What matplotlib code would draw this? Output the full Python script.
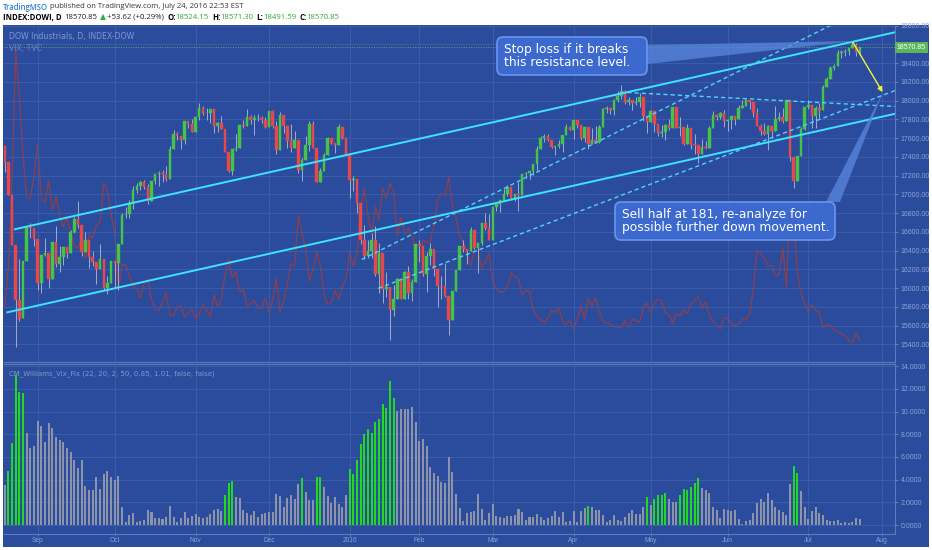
import numpy as np
import pandas as pd
import matplotlib
matplotlib.use('Agg')
import matplotlib.pyplot as plt
from matplotlib.patches import FancyBboxPatch, Polygon, Rectangle
from matplotlib.transforms import Affine2D, blended_transform_factory

# Daily DOW candles, 2015-08-19 .. 2016-07-22 (one value per trading day)
open_ = [17511, 17349, 16991, 16460, 15872, 15676, 16285, 16655, 16643,
         16528, 16058, 16351, 16375, 16102, 16493, 16254, 16330, 16433, 16371, 16600, 16740, 16675, 16385, 16510, 16330, 16280, 16201, 16315, 16002, 16049,
         16285, 16272, 16472, 16776, 16790, 16912, 17051, 17084, 17132, 17082, 16925, 17142, 17216, 17231, 17217, 17169, 17489, 17647, 17623, 17581, 17780, 17756,
         17664, 17829, 17918, 17868, 17863, 17910, 17730, 17758, 17702, 17448, 17245, 17483, 17490, 17737, 17733, 17824, 17793, 17812, 17813, 17798,
         17720, 17888, 17730, 17478, 17848, 17731, 17568, 17492, 17575, 17265, 17369, 17525, 17749, 17496, 17129, 17252, 17417, 17603, 17552, 17528, 17721, 17604,
         17425, 17149, 17159, 16907, 16514, 16346, 16399, 16516, 16151, 16379, 15988, 16016, 15767, 15883, 16094, 15885, 16167, 15944, 16070,
         16466, 16449, 16154, 16337, 16417, 16205, 16027, 16014, 15915, 15660, 15974, 16196, 16454, 16413, 16392, 16621, 16432, 16485, 16697, 16640,
         16517, 16865, 16899, 16944, 17007, 17074, 16964, 17000, 16995, 17213, 17229, 17252, 17326, 17481, 17602, 17624, 17583, 17503, 17516, 17535, 17633, 17717,
         17685, 17793, 17737, 17603, 17716, 17542, 17577, 17556, 17721, 17908, 17926, 17897, 18004, 18054, 18096, 17983, 18004, 17977, 17990, 18042, 17831,
         17774, 17891, 17751, 17651, 17661, 17741, 17706, 17928, 17711, 17721, 17535, 17711, 17530, 17527, 17435, 17501, 17493, 17706, 17852, 17828, 17873,
         17787, 17790, 17839, 17807, 17920, 17938, 18005, 17985, 17865, 17732, 17675, 17640, 17733, 17675, 17805, 17830, 17781, 18011, 17401, 17140, 17410, 17695,
         17930, 17949, 17841, 17919, 17896, 18147, 18227, 18348, 18372, 18506, 18517, 18533, 18559, 18595, 18524]
high = [17511, 17349, 16991, 16460, 16312, 16285, 16666, 16697, 16643,
        16528, 16351, 16529, 16375, 16494, 16664, 16450, 16434, 16433, 16620, 16755, 16933, 16675, 16600, 16510, 16392, 16280, 16467, 16315, 16130, 16285,
        16285, 16472, 16797, 16864, 16944, 17085, 17119, 17138, 17150, 17106, 17142, 17220, 17249, 17263, 17301, 17516, 17689, 17662, 17623, 17780, 17782, 17799,
        17829, 17978, 17948, 17921, 17910, 17910, 17770, 17836, 17702, 17448, 17483, 17649, 17737, 17798, 17915, 17851, 17844, 17856, 17839, 17830,
        17895, 17901, 17784, 17880, 17848, 17731, 17747, 17675, 17575, 17388, 17627, 17784, 17787, 17496, 17279, 17439, 17607, 17606, 17552, 17750, 17721, 17604,
        17425, 17195, 17159, 16907, 16675, 16513, 16591, 16665, 16482, 16379, 16172, 16016, 16038, 16109, 16094, 16185, 16235, 16102, 16466,
        16510, 16449, 16381, 16485, 16417, 16205, 16127, 16270, 15915, 15974, 16197, 16454, 16511, 16413, 16650, 16621, 16485, 16698, 16796, 16795,
        16865, 16900, 16944, 17062, 17099, 17074, 17006, 17130, 17220, 17237, 17252, 17326, 17513, 17620, 17641, 17643, 17583, 17520, 17578, 17633, 17754, 17733,
        17793, 17794, 17737, 17716, 17716, 17703, 17731, 17744, 17918, 17939, 17926, 18009, 18103, 18167, 18109, 18038, 18004, 18043, 18084, 18042, 17831,
        17903, 17891, 17751, 17738, 17748, 17805, 17934, 17928, 17822, 17721, 17756, 17711, 17646, 17527, 17589, 17573, 17730, 17891, 17860, 17874, 17899,
        17809, 17839, 17839, 17956, 18003, 18016, 18005, 17985, 17917, 17746, 17763, 17740, 17733, 17946, 17877, 17921, 18011, 18011, 17401, 17410, 17715, 17930,
        18003, 17949, 17940, 17975, 18166, 18248, 18372, 18391, 18537, 18537, 18550, 18559, 18622, 18612, 18571]
low = [17244, 16990, 16460, 15370, 15651, 15676, 16285, 16530, 16452,
       15980, 15950, 16340, 16003, 16102, 16227, 16170, 16244, 16318, 16371, 16591, 16639, 16344, 16385, 16211, 16236, 16040, 16201, 15980, 15942, 16049,
       16013, 15980, 16472, 16745, 16750, 16843, 17016, 17046, 17055, 16896, 16925, 17109, 17088, 17134, 17143, 17169, 17489, 17576, 17485, 17534, 17710, 17662,
       17664, 17789, 17843, 17796, 17764, 17660, 17668, 17701, 17447, 17238, 17210, 17459, 17490, 17712, 17733, 17752, 17633, 17786, 17762, 17710,
       17720, 17710, 17431, 17478, 17651, 17496, 17449, 17492, 17230, 17138, 17369, 17463, 17495, 17129, 17129, 17252, 17417, 17542, 17437, 17528, 17595, 17421,
       16957, 17038, 16805, 16472, 16315, 16324, 16323, 16125, 15945, 15843, 15900, 15451, 15704, 15883, 15880, 15885, 15879, 15863, 16070,
       16281, 16126, 15960, 16242, 16125, 15803, 15881, 15900, 15503, 15660, 15974, 16196, 16390, 16256, 16392, 16415, 16165, 16458, 16621, 16511,
       16517, 16821, 16817, 16944, 16978, 16952, 16929, 16821, 16995, 17176, 17165, 17204, 17265, 17481, 17554, 17567, 17492, 17420, 17500, 17447, 17633, 17682,
       17594, 17711, 17579, 17556, 17484, 17542, 17551, 17550, 17721, 17870, 17858, 17850, 17985, 18015, 17960, 17955, 17896, 17958, 17934, 17788, 17651,
       17774, 17668, 17627, 17614, 17579, 17683, 17706, 17711, 17622, 17528, 17535, 17485, 17435, 17331, 17435, 17486, 17493, 17706, 17793, 17807, 17724,
       17681, 17696, 17740, 17807, 17920, 17938, 17911, 17822, 17731, 17636, 17630, 17471, 17602, 17675, 17782, 17760, 17781, 17357, 17063, 17140, 17410, 17690,
       17916, 17713, 17712, 17816, 17896, 18147, 18227, 18325, 18372, 18457, 18477, 18486, 18559, 18472, 18492]
close = [17349, 16991, 16460, 15871, 15666, 16285, 16655, 16643, 16528,
         16058, 16351, 16375, 16102, 16493, 16254, 16330, 16433, 16371, 16600, 16740, 16675, 16385, 16510, 16330, 16280, 16201, 16315, 16002, 16049, 16285,
         16272, 16472, 16776, 16790, 16912, 17051, 17084, 17132, 17082, 16925, 17142, 17216, 17231, 17217, 17169, 17489, 17647, 17623, 17581, 17780, 17756, 17664,
         17829, 17918, 17868, 17863, 17910, 17730, 17758, 17702, 17448, 17245, 17483, 17490, 17737, 17733, 17824, 17793, 17812, 17813, 17798, 17720,
         17888, 17730, 17478, 17848, 17731, 17568, 17492, 17575, 17265, 17369, 17525, 17749, 17496, 17129, 17252, 17417, 17603, 17552, 17528, 17721, 17604, 17425,
         17149, 17159, 16907, 16514, 16346, 16399, 16516, 16151, 16379, 15988, 16016, 15767, 15883, 16094, 15885, 16167, 15944, 16070, 16466,
         16449, 16154, 16337, 16417, 16205, 16027, 16014, 15915, 15660, 15974, 16196, 16454, 16413, 16392, 16621, 16432, 16485, 16697, 16640, 16517,
         16865, 16899, 16944, 17007, 17074, 16964, 17000, 16995, 17213, 17229, 17252, 17326, 17481, 17602, 17624, 17583, 17503, 17516, 17535, 17633, 17717, 17685,
         17793, 17737, 17603, 17716, 17542, 17577, 17556, 17721, 17908, 17926, 17897, 18004, 18054, 18096, 17983, 18004, 17977, 17990, 18042, 17831, 17774,
         17891, 17751, 17651, 17661, 17741, 17706, 17928, 17711, 17721, 17535, 17711, 17530, 17527, 17435, 17501, 17493, 17706, 17852, 17828, 17873, 17787,
         17790, 17839, 17807, 17920, 17938, 18005, 17985, 17865, 17732, 17675, 17640, 17733, 17675, 17805, 17830, 17781, 18011, 17401, 17140, 17410, 17695, 17930,
         17949, 17841, 17919, 17896, 18147, 18227, 18348, 18372, 18506, 18517, 18533, 18559, 18595, 18517, 18571]

# VIX overlay (TVC), same days
vix = [15.25, 19.14, 28.03, 40.74, 36.02, 30.32, 26.10, 26.05, 28.43,
       31.40, 26.09, 25.61, 27.80, 24.90, 26.23, 24.37, 23.20, 24.25, 22.54, 21.35, 21.14, 22.28, 20.14, 22.44, 22.13, 23.47, 23.62, 27.63, 26.83, 24.50,
       22.55, 17.08, 19.54, 19.40, 18.40, 17.42, 17.08, 16.17, 17.67, 18.03, 16.05, 15.05, 14.98, 15.75, 16.70, 14.45, 14.46, 15.29, 15.43, 14.33, 14.61, 15.07,
       14.15, 14.54, 15.51, 15.05, 14.33, 16.52, 15.29, 16.06, 18.37, 20.08, 18.16, 18.84, 16.85, 16.99, 15.47, 15.62, 15.93, 15.19, 15.12, 16.13,
       14.67, 15.91, 18.11, 14.81, 15.84, 17.60, 19.61, 19.34, 24.39, 22.73, 20.95, 17.86, 18.94, 20.70, 19.34, 16.60, 15.57, 15.74, 16.91, 16.08, 17.29, 18.21,
       20.70, 19.34, 20.59, 24.99, 27.01, 24.30, 22.47, 25.22, 23.95, 27.02, 26.05, 27.59, 26.69, 22.34, 24.15, 22.50, 23.11, 22.42, 20.20,
       19.98, 21.98, 21.65, 21.84, 23.38, 26.00, 26.54, 26.29, 28.14, 25.40, 24.11, 22.31, 21.64, 20.53, 19.38, 20.98, 20.72, 19.11, 19.81, 20.55,
       17.70, 17.09, 16.70, 16.86, 17.35, 18.67, 18.34, 18.05, 16.50, 16.92, 16.84, 14.99, 14.44, 14.02, 13.79, 14.17, 14.94, 14.74, 15.24, 13.82, 13.56, 13.95,
       13.10, 14.12, 15.42, 14.09, 16.16, 15.36, 16.26, 14.85, 13.84, 13.72, 13.62, 13.35, 13.24, 13.28, 13.95, 13.22, 14.08, 13.96, 13.77, 15.22, 15.70,
       14.68, 15.60, 16.05, 15.91, 14.72, 14.57, 13.63, 14.69, 14.41, 15.04, 14.68, 15.57, 15.95, 16.33, 15.20, 15.82, 14.42, 13.90, 13.43, 13.12, 14.19,
       14.20, 13.63, 13.47, 13.65, 14.05, 14.08, 14.64, 17.03, 20.97, 20.50, 20.14, 19.37, 19.41, 18.37, 18.48, 21.17, 17.25, 25.76, 23.85, 18.75, 16.64, 15.63,
       14.77, 15.58, 14.96, 14.76, 13.20, 13.54, 13.55, 13.04, 12.82, 12.67, 12.44, 11.97, 11.77, 12.74, 12.02]

# CM_Williams_Vix_Fix histogram, same days
wvf = [3.5, 4.76, 7.2, 13.2, 11.75, 11.6, 8.08, 6.75, 6.96,
       9.16, 8.75, 7.34, 8.96, 8.52, 7.78, 7.49, 7.34, 6.75, 6.46, 5.73, 4.99, 5.73, 3.44, 3.08, 3.08, 4.26, 3.14, 4.49, 4.76, 4.26,
       3.96, 4.32, 1.62, 0.29, 0.88, 1.09, 0.29, 0.35, 0.44, 1.32, 1.17, 0.65, 0.59, 0.5, 0.73, 1.7, 0.68, 0.29, 0.59, 1.17, 0.59, 0.79,
       0.94, 0.73, 0.59, 0.73, 0.94, 1.32, 1.38, 1.23, 2.64, 3.67, 3.88, 2.5, 2.35, 1.32, 1.03, 0.88, 1.26, 0.73, 0.97, 1.09,
       1.12, 1.12, 2.7, 2.56, 1.62, 2.35, 2.64, 2.26, 3.61, 4.11, 2.94, 2.2, 2.2, 4.2, 4.26, 3.38, 2.56, 1.91, 2.44, 1.85, 1.62, 2.64,
       4.93, 4.49, 5.73, 7.1, 8.02, 8.46, 8.13, 9.05, 9.31, 10.63, 10.28, 12.72, 11.22, 10.07, 10.19, 10.25, 10.22, 10.37, 9.1,
       7.43, 7.55, 6.96, 5.14, 4.55, 4.32, 3.82, 3.73, 6.02, 4.7, 2.7, 1.47, 0.35, 1.03, 1.17, 1.26, 2.7, 1.38, 0.44, 1.03,
       1.85, 0.79, 0.68, 0.59, 0.79, 0.82, 0.88, 1.38, 1.17, 0.44, 0.73, 0.73, 0.97, 0.73, 0.44, 0.59, 0.79, 1.26, 0.73, 1.17, 0.29, 0.35,
       1.26, 0.29, 1.23, 1.47, 1.67, 1.56, 1.32, 1.32, 0.88, 0.29, 0.44, 0.88, 0.44, 0.38, 0.73, 1.03, 1.32, 0.97, 0.97, 1.62, 2.44,
       1.76, 2.29, 2.64, 2.64, 2.79, 2.26, 2.06, 2.06, 2.64, 3.17, 3.08, 3.38, 3.67, 4.11, 3.23, 3.08, 2.79, 1.62, 1.32, 0.59, 1.38,
       1.32, 1.26, 1.32, 0.5, 0.1, 0.38, 0.44, 1.03, 1.91, 2.26, 2.06, 2.85, 2.2, 1.62, 1.32, 1.17, 0.88, 3.61, 5.2, 4.55, 3.02,
       1.62, 0.53, 1.26, 1.62, 1.09, 0.88, 0.44, 0.38, 0.38, 0.44, 0.21, 0.23, 0.21, 0.29, 0.59, 0.53]
# bars drawn green (signal) - day numbers counted from the first candle
wvf_green = [1, 2, 3, 4, 5, 60, 61, 62, 81, 85, 86,
             94, 95, 96, 97, 98, 99, 100, 101, 102, 103, 104, 105, 106,
             159, 175, 177, 178, 179, 180, 184, 185, 186, 187, 188, 189, 215, 216]

holidays = ['2015-09-07', '2015-11-26', '2015-12-25', '2016-01-01', '2016-01-18',
            '2016-02-15', '2016-03-25', '2016-05-30', '2016-07-04']

# drawing tools: (day number, price) end points
trend_solid = [((2.8, 16628), (242.6, 18730)),
               ((0.7, 15741), (242.6, 17860))]
trend_dashed = [((97.3, 16305), (230.0, 18900)),
                ((101.8, 15997), (242.6, 18108)),
                ((167.7, 18091), (242.6, 17938))]
arrow_from = (231.1, 18624)
arrow_to = (239.2, 18091)
last_price = 18570.85

W, H = 932, 550
BG = '#2b4c9c'
GRID = '#3b5daa'
SPINE = '#5f7bc0'
LABEL = '#8ea3d6'
UP = '#45c445'
DOWN = '#e8484c'
WICK = '#b4bccf'

fig = plt.figure(figsize=(W / 100, H / 100), dpi=100)
fig.patch.set_facecolor('white')
px = Affine2D().scale(1, -1).translate(0, H)   # image pixels, y down

fig.add_artist(Rectangle((3, 25), 926, 522, transform=px, facecolor=BG,
                         edgecolor='none', zorder=-10))

l, r = 4 / W, 895 / W
ax = fig.add_axes([l, (H - 362) / H, r - l, (362 - 25.7) / H])
axv = ax.twinx()
ax2 = fig.add_axes([l, (H - 534) / H, r - l, (534 - 363.5) / H])

ax.set_zorder(2)
axv.set_zorder(1)
for a in (ax, axv, ax2):
    a.patch.set_visible(False)

days = pd.bdate_range('2015-08-19', '2016-08-31', freq='C', holidays=holidays)
n = len(close)
xs = np.arange(n)
o = np.array(open_[:n], float)
c = np.array(close, float)
hi = np.array(high[:n], float)
lo = np.array(low[:n], float)

# month ticks at first trading day of each month
firsts = days.to_series().groupby([days.year, days.month]).first()
firsts = [d for d in firsts if d >= pd.Timestamp('2015-09-01')]
tick_pos = [days.get_loc(d) for d in firsts]
tick_lab = ['2016' if d.month == 1 else d.strftime('%b') for d in firsts]

xlim = (-0.19, 242.59)

# ---- main panel
price_ticks = np.arange(15400, 18801, 200)
for y in price_ticks:
    ax.axhline(y, color=GRID, lw=0.7, zorder=0)
for p in tick_pos:
    ax.axvline(p, color=GRID, lw=0.7, zorder=0)
    ax2.axvline(p, color=GRID, lw=0.7, zorder=0)

ax.vlines(xs, lo, hi, color=WICK, lw=0.6, zorder=2)
up = c >= o
cols = np.where(up, UP, DOWN)
ax.bar(xs, np.maximum(np.abs(c - o), 8), bottom=np.minimum(o, c), width=0.7,
       color=cols, edgecolor=cols, lw=0.3, zorder=3)

axv.plot(np.arange(len(vix)), vix, color='#a13c3e', lw=0.9, alpha=0.85)
axv.set_ylim(9.85, 43.15)
axv.set_yticks([])
for s in axv.spines.values():
    s.set_visible(False)

for (x0, y0), (x1, y1) in trend_solid:
    ax.plot([x0, x1], [y0, y1], color='#3fe2ff', lw=1.4, zorder=5)
for (x0, y0), (x1, y1) in trend_dashed:
    ax.plot([x0, x1], [y0, y1], color='#52d4f7', lw=1.0, dashes=(3, 2.2), zorder=5)

ax.annotate('', xy=arrow_to, xytext=arrow_from,
            arrowprops=dict(arrowstyle='-|>', color='#f3f33c', lw=1.0,
                            mutation_scale=7, shrinkA=0, shrinkB=0), zorder=6)

ax.axhline(last_price, color='#5fae5f', lw=0.7, ls=(0, (1, 1.5)), zorder=1)
ax.text(1.002, last_price, f'{last_price:.2f}',
        transform=blended_transform_factory(ax.transAxes, ax.transData),
        color='white', fontsize=5, family='Liberation Sans', va='center', ha='left',
        bbox=dict(facecolor='#5cb45c', edgecolor='none', pad=1.4), zorder=7, clip_on=False)

ax.set_xlim(*xlim)
ax.set_ylim(15211, 18794)
ax.yaxis.tick_right()
ax.set_yticks(price_ticks)
# the 18600 label sits under the last-price tag, as on the reference
ax.set_yticklabels(['' if abs(v - last_price) < 60 else f'{v:.2f}' for v in price_ticks])
ax.tick_params(axis='y', colors=SPINE, labelcolor=LABEL, labelsize=5, length=2, pad=2)
ax.tick_params(axis='x', bottom=False, labelbottom=False)
for lab in ax.get_yticklabels():
    lab.set_family('Liberation Sans')
for k in ('top', 'left'):
    ax.spines[k].set_visible(False)
for k in ('right', 'bottom'):
    ax.spines[k].set_color(SPINE)
    ax.spines[k].set_linewidth(0.8)

# ---- lower panel
ax2.set_xlim(*xlim)
ax2.set_ylim(-0.79, 14.23)
wvf_ticks = np.arange(0, 15, 2)
for y in wvf_ticks:
    ax2.axhline(y, color=GRID, lw=0.7, zorder=0)
green_set = set(wvf_green)
bar_cols = ['#22d822' if i in green_set else '#8d93a8' for i in range(len(wvf))]
ax2.bar(np.arange(len(wvf)), wvf, width=0.55, color=bar_cols, zorder=3)
ax2.yaxis.tick_right()
ax2.set_yticks(wvf_ticks)
ax2.set_yticklabels([f'{v:.4f}' for v in wvf_ticks])
ax2.set_xticks(tick_pos)
ax2.set_xticklabels(tick_lab)
ax2.tick_params(axis='y', colors=SPINE, labelcolor=LABEL, labelsize=5, length=2, pad=2)
ax2.tick_params(axis='x', colors=SPINE, labelcolor=LABEL, labelsize=4.8, length=1.5, pad=0.8)
for lab in ax2.get_yticklabels() + ax2.get_xticklabels():
    lab.set_family('Liberation Sans')
ax2.spines['left'].set_visible(False)
for k in ('right', 'bottom', 'top'):
    ax2.spines[k].set_color(SPINE)
    ax2.spines[k].set_linewidth(0.8)

# ---- panel captions
fig.text(9, 36, 'DOW Industrials, D, INDEX-DOW', transform=px, color='#7f98d4',
         fontsize=5.6, va='center', ha='left')
fig.text(9, 48, 'VIX, TVC', transform=px, color='#6b83bd', fontsize=5.6, va='center', ha='left')
fig.text(9, 374, 'CM_Williams_Vix_Fix (22, 20, 2, 50, 0.85, 1.01, false, false)', transform=px,
         color='#8197cc', fontsize=5.0, va='center', ha='left')

# ---- callouts
wedge = '#5a86e0'
box_fc = '#3d6cd3'
box_ec = '#6c95ee'
fig.add_artist(Polygon([(647, 45), (647, 64), (856, 41)], closed=True, transform=px,
                       facecolor=wedge, edgecolor='none', alpha=0.75, zorder=8))
fig.add_artist(Polygon([(826, 202), (840, 202), (883, 92)], closed=True, transform=px,
                       facecolor=wedge, edgecolor='none', alpha=0.75, zorder=8))
fig.add_artist(FancyBboxPatch((497, 37), 150, 38, boxstyle='round,pad=0,rounding_size=6',
                              transform=px, facecolor=box_fc, edgecolor=box_ec, lw=1.3,
                              alpha=0.92, zorder=9))
fig.add_artist(FancyBboxPatch((615, 202), 220, 38, boxstyle='round,pad=0,rounding_size=6',
                              transform=px, facecolor=box_fc, edgecolor=box_ec, lw=1.3,
                              alpha=0.92, zorder=9))
fig.text(504, 56, 'Stop loss if it breaks\nthis resistance level.', transform=px,
         color='white', fontsize=8.8, linespacing=1.0, va='center', ha='left', zorder=10)
fig.text(622, 221, 'Sell half at 181, re-analyze for\npossible further down movement.',
         transform=px, color='white', fontsize=8.8, linespacing=1.0, va='center', ha='left',
         zorder=10)

# ---- header
def text_run(x0, y0, parts, size):
    rend = fig.canvas.get_renderer()
    x = x0
    for s, col, weight, gap in parts:
        t = fig.text(x, y0, s, transform=px, color=col, fontsize=size, fontweight=weight,
                     ha='left', va='center', family=['Open Sans', 'DejaVu Sans'])
        x += t.get_window_extent(rend).width + gap
    return x

text_run(3, 7, [('TradingMSO', '#2f7fd0', 'semibold', 2.2),
                ('published on TradingView.com, July 24, 2016 22:53 EST', '#333333', 'normal', 0)], 5.5)
g = '#36a536'
text_run(3, 17.5, [('INDEX:DOWI, D', 'black', 'bold', 3),
                   ('18570.85', '#222222', 'normal', 2),
                   ('\u25b2', '#33b033', 'normal', 1.5),
                   ('+53.62 (+0.29%)', '#222222', 'normal', 3),
                   ('O:', 'black', 'bold', 0), ('18524.15', g, 'normal', 3),
                   ('H:', 'black', 'bold', 0), ('18571.30', g, 'normal', 3),
                   ('L:', 'black', 'bold', 0), ('18491.59', g, 'normal', 3),
                   ('C:', 'black', 'bold', 0), ('18570.85', g, 'normal', 0)], 5.6)

fig.savefig('out.png', dpi=100, facecolor='white')
